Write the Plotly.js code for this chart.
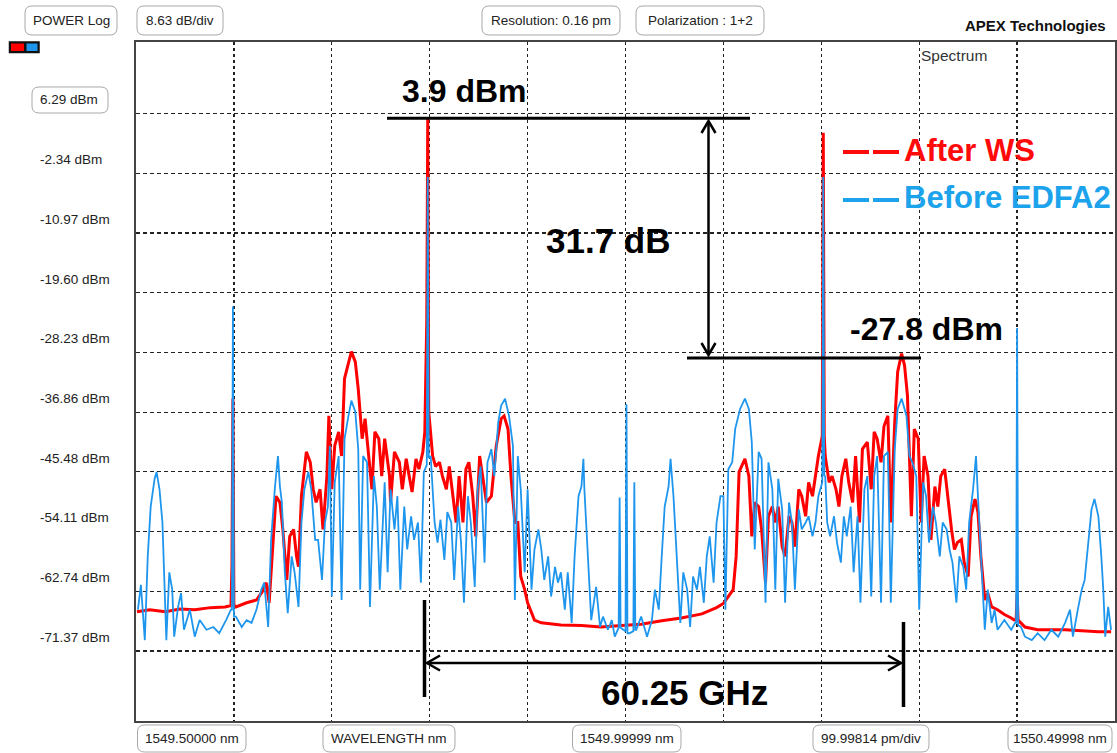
<!DOCTYPE html>
<html>
<head>
<meta charset="utf-8">
<script src="https://cdn.plot.ly/plotly-3.0.1.min.js"></script>
<style>
  html, body { margin: 0; padding: 0; background: #fff; }
  #chart { width: 1117px; height: 753px; }
</style>
</head>
<body>
<div id="chart"></div>
<script>
// ---------------- DATA ----------------
// wavelength offset from 1549.5 nm, in pm ; power in dBm
const START_NM = 1549.5;
const STOP_NM = 1550.49998;

const redPm = [1,14,30,45,60,76,91,97,98,99,100,102,113,123,129,133,136,139,143,147,150,154,157,161,164,166,169,174,178,181,184,188,191,195,197,200,203,207,210,213,217,220,224,227,231,234,237,241,244,248,251,254,259,260,264,269,272,276,279,282,286,289,293,295,297,298,299,303,306,310,313,317,320,323,327,330,334,337,340,344,347,351,354,358,363,368,373,376,380,383,387,390,393,397,400,404,407,414,434,455,475,496,516,537,557,578,593,600,605,610,613,616,622,626,629,632,636,639,643,646,650,653,656,660,663,667,670,673,677,680,684,687,691,694,697,701,702,703,704,708,711,715,718,721,725,728,732,735,739,742,747,751,754,757,761,764,768,771,775,778,782,785,788,792,795,799,802,805,809,812,816,819,822,826,829,833,836,839,843,846,850,853,857,860,863,867,870,874,880,887,894,897,899,900,901,908,921,949,983,996];
const redDbm = [-65.7,-65.4,-65.7,-65.3,-65.4,-65.1,-65.0,-64.8,-59.2,-34.9,-64.7,-65.0,-64.4,-64.0,-62.8,-61.5,-64.4,-57.7,-49.0,-49.9,-53.8,-61.1,-54.8,-53.8,-57.7,-59.2,-49.0,-42.6,-44.1,-48.0,-49.9,-48.0,-53.8,-46.1,-37.4,-48.0,-41.7,-39.7,-43.2,-32.0,-29.6,-28.1,-29.6,-33.5,-40.7,-37.8,-42.2,-48.0,-39.7,-40.7,-46.1,-40.7,-46.1,-49.9,-42.6,-44.1,-48.0,-43.6,-46.1,-48.4,-43.6,-45.1,-42.6,-39.7,-23.6,5.6,-36.8,-43.2,-44.7,-44.1,-46.1,-48.0,-44.7,-48.0,-52.8,-46.1,-52.8,-45.1,-44.1,-49.0,-54.8,-43.2,-46.1,-49.9,-49.0,-41.7,-37.8,-37.4,-39.3,-46.1,-52.8,-52.8,-60.6,-62.5,-64.4,-65.9,-66.9,-67.3,-67.6,-67.7,-67.9,-67.7,-67.5,-67.0,-66.6,-66.0,-65.1,-64.5,-63.5,-62.5,-57.7,-45.5,-43.6,-46.1,-54.8,-49.9,-50.5,-53.8,-61.5,-51.9,-50.5,-52.8,-50.5,-56.3,-57.7,-51.9,-52.8,-56.3,-48.0,-49.0,-51.9,-47.0,-49.0,-46.1,-43.2,-40.3,3.5,-40.3,-43.2,-47.0,-46.1,-48.0,-50.5,-46.1,-43.6,-47.0,-49.9,-43.2,-52.8,-42.2,-41.2,-48.0,-39.7,-40.7,-44.1,-38.9,-37.4,-52.8,-38.3,-31.0,-28.4,-30.1,-34.5,-51.9,-39.3,-40.7,-52.8,-43.2,-46.1,-55.3,-47.6,-50.5,-46.1,-45.1,-49.0,-53.8,-56.7,-55.7,-55.3,-58.6,-60.6,-51.9,-49.4,-51.3,-57.7,-64.0,-63.0,-65.0,-65.4,-66.1,-66.6,-66.9,-66.9,-63.0,-66.9,-67.9,-68.3,-68.3,-68.6,-68.6];

const bluePm = [2,5,9,12,15,19,21,24,27,29,31,34,37,39,43,46,49,55,60,65,72,79,85,92,97,98,99,100,102,108,113,118,123,128,131,135,138,142,145,147,149,152,155,159,162,166,169,172,176,179,183,186,190,193,196,198,200,203,207,210,213,217,220,224,227,229,232,236,239,243,246,249,254,257,260,264,267,270,274,277,281,284,288,291,294,297,298,299,301,305,308,311,315,318,322,325,329,332,335,339,342,346,349,352,356,359,363,366,370,373,377,381,385,387,390,393,397,400,404,407,411,414,417,421,424,428,431,434,438,441,445,448,452,455,457,458,462,465,470,474,477,482,486,489,493,494,495,498,500,501,502,504,508,509,510,511,516,522,527,530,534,537,540,544,546,549,552,556,559,563,566,569,573,576,580,583,586,590,593,597,600,602,605,609,612,617,622,626,629,632,636,639,643,646,650,653,656,660,663,667,670,673,677,680,684,687,691,694,697,701,702,703,704,706,709,713,716,720,723,726,730,733,737,740,744,747,751,754,757,761,764,768,771,775,778,782,787,790,793,797,800,804,807,810,814,817,821,824,828,831,834,838,841,845,848,851,855,858,860,863,867,870,874,877,880,887,894,898,899,900,901,904,908,915,921,928,935,942,949,954,957,962,966,969,973,976,979,983,986,988,990,993,996];
const blueDbm = [-65.4,-61.8,-69.8,-57.7,-50.5,-46.5,-45.5,-48.0,-52.8,-60.0,-69.8,-60.0,-62.5,-69.3,-65.0,-63.0,-68.3,-65.4,-69.3,-66.9,-68.3,-67.9,-68.8,-66.9,-65.4,-65.4,-21.6,-66.4,-66.4,-67.9,-66.9,-67.3,-65.4,-62.5,-61.5,-67.9,-55.3,-47.6,-43.2,-47.6,-49.9,-60.0,-65.9,-57.7,-60.0,-65.0,-52.8,-48.0,-45.5,-48.0,-55.3,-55.3,-61.1,-52.8,-50.5,-41.7,-63.5,-47.0,-43.2,-64.0,-40.7,-37.4,-35.2,-36.8,-42.2,-62.5,-43.2,-44.1,-65.0,-46.1,-50.5,-62.5,-47.0,-60.0,-48.0,-53.8,-49.0,-62.5,-50.5,-56.7,-51.9,-55.3,-52.8,-61.5,-45.5,-44.5,-2.9,-43.5,-43.2,-52.8,-55.7,-52.4,-58.2,-51.3,-52.8,-61.1,-50.5,-55.7,-64.4,-49.0,-52.8,-62.1,-48.0,-44.7,-58.6,-44.1,-42.2,-46.1,-38.3,-35.9,-34.9,-37.4,-41.7,-64.0,-43.2,-48.0,-60.0,-48.0,-62.5,-56.7,-53.8,-56.7,-61.1,-57.7,-63.5,-59.2,-61.5,-60.0,-65.4,-60.0,-67.3,-57.7,-49.0,-47.6,-43.6,-48.0,-60.0,-66.9,-62.1,-67.9,-66.4,-68.3,-66.9,-69.3,-68.0,-49.2,-68.0,-68.3,-68.5,-35.7,-68.8,-68.8,-68.5,-47.0,-68.3,-68.3,-66.4,-69.3,-66.9,-62.5,-65.4,-57.7,-50.5,-47.6,-43.6,-49.0,-57.7,-67.3,-60.0,-62.5,-67.9,-60.6,-62.5,-59.2,-64.4,-57.7,-54.8,-61.5,-52.8,-49.0,-49.0,-65.4,-45.1,-44.1,-39.3,-36.4,-34.9,-36.4,-41.2,-56.7,-42.6,-43.6,-64.4,-44.1,-48.0,-62.5,-46.5,-50.9,-64.4,-49.9,-52.8,-62.5,-50.9,-53.8,-52.8,-51.9,-54.8,-52.8,-49.0,-47.0,-2.9,-46.0,-46.1,-52.8,-54.8,-51.9,-55.7,-58.6,-51.9,-54.8,-50.5,-60.0,-51.9,-64.4,-48.0,-46.1,-63.5,-46.1,-43.2,-64.4,-43.2,-42.6,-64.4,-42.2,-36.4,-34.9,-37.4,-43.2,-44.1,-46.1,-65.4,-47.0,-49.0,-55.7,-50.5,-52.8,-57.7,-52.8,-53.8,-56.7,-58.6,-64.4,-57.7,-59.2,-62.5,-52.8,-48.0,-43.2,-49.0,-56.7,-68.3,-62.5,-67.3,-65.4,-68.3,-66.9,-68.3,-67.3,-67.3,-24.7,-67.6,-67.9,-69.3,-69.8,-68.8,-69.8,-68.3,-69.3,-67.3,-65.4,-69.3,-65.4,-62.5,-61.1,-54.8,-50.9,-49.4,-51.9,-57.7,-62.5,-69.3,-65.0,-68.3];

// grid levels (dBm) and their labels
const yLevels = [6.29,-2.34,-10.97,-19.60,-28.23,-36.86,-45.48,-54.11,-62.74,-71.37];
const yLabels = ["6.29 dBm","-2.34 dBm","-10.97 dBm","-19.60 dBm","-28.23 dBm","-36.86 dBm","-45.48 dBm","-54.11 dBm","-62.74 dBm","-71.37 dBm"];
const xGridNm = [1549.6,1549.7,1549.8,1549.9,1550.0,1550.1,1550.2,1550.3,1550.4];

const topBoxes = ["POWER Log","8.63 dB/div","Resolution: 0.16 pm","Polarization : 1+2"];
const bottomBoxes = ["1549.50000 nm","WAVELENGTH nm","1549.99999 nm","99.99814 pm/div","1550.49998 nm"];

const seriesNames = ["After WS","Before EDFA2"];
const peakLabel = "3.9 dBm";
const sidePeakLabel = "-27.8 dBm";
const diffLabel = "31.7 dB";
const spacingLabel = "60.25 GHz";

// ---------------- LAYOUT HELPERS ----------------
const W = 1117, H = 753;
const PL = 136, PR = 1115, PT = 42, PB = 721;
const px = v => (v - PL) / (PR - PL);
const py = v => (PB - v) / (PB - PT);

function roundRect(x0, y0, x1, y1, r) {
  const P = (a, b) => px(a).toFixed(5) + ',' + py(b).toFixed(5);
  return 'M' + P(x0 + r, y0) + ' L' + P(x1 - r, y0) + ' Q' + P(x1, y0) + ' ' + P(x1, y0 + r) +
         ' L' + P(x1, y1 - r) + ' Q' + P(x1, y1) + ' ' + P(x1 - r, y1) +
         ' L' + P(x0 + r, y1) + ' Q' + P(x0, y1) + ' ' + P(x0, y1 - r) +
         ' L' + P(x0, y0 + r) + ' Q' + P(x0, y0) + ' ' + P(x0 + r, y0) + ' Z';
}
function polyline(pts) {
  return pts.map((p, i) => (i ? 'L' : 'M') + px(p[0]).toFixed(5) + ',' + py(p[1]).toFixed(5)).join(' ');
}

const FONT = "Liberation Sans, Arial, sans-serif";
const shapes = [];
const annotations = [];

function box(x0, y0, x1, y1, text) {
  shapes.push({type: 'path', xref: 'paper', yref: 'paper', path: roundRect(x0, y0, x1, y1, 7),
    line: {color: '#a8a8a8', width: 1}, fillcolor: '#ffffff', layer: 'above'});
  annotations.push({xref: 'paper', yref: 'paper', x: px((x0 + x1) / 2), y: py((y0 + y1) / 2),
    xanchor: 'center', yanchor: 'middle', showarrow: false, text: text,
    font: {family: FONT, size: 13.5, color: '#222'}});
}
function line(pts, w, color) {
  shapes.push({type: 'path', xref: 'paper', yref: 'paper', path: polyline(pts),
    line: {color: color || '#000', width: w}, layer: 'above'});
}
function bigText(text, cx, cy, size, color, anchor) {
  annotations.push({xref: 'paper', yref: 'paper', x: px(cx), y: py(cy), xanchor: anchor || 'center', yanchor: 'middle',
    showarrow: false, text: '<b>' + text + '</b>', font: {family: FONT, size: size, color: color || '#000'}});
}

// top boxes
box(25, 6, 117, 35, topBoxes[0]);
box(137, 6, 223, 35, topBoxes[1]);
box(482, 6, 620, 35, topBoxes[2]);
box(636, 6, 764, 35, topBoxes[3]);
// bottom boxes
box(137.5, 725, 246, 752, bottomBoxes[0]);
box(323, 725, 455, 752, bottomBoxes[1]);
box(572.5, 725, 681, 752, bottomBoxes[2]);
box(813, 725, 929, 752, bottomBoxes[3]);
box(1008, 725, 1112, 752, bottomBoxes[4]);

// reference level box
shapes.push({type: 'path', xref: 'paper', yref: 'paper', path: roundRect(32, 87, 108, 113, 7),
  line: {color: '#a8a8a8', width: 1}, fillcolor: '#ffffff', layer: 'above'});
// y tick labels (drawn just above each grid level)
yLevels.forEach((v, i) => {
  annotations.push({xref: 'paper', yref: 'y', x: px(38), y: v, yshift: 13.7, xanchor: 'left', yanchor: 'middle',
    showarrow: false, text: yLabels[i], font: {family: FONT, size: 13.5, color: '#222'}});
});

// small trace colour icon
shapes.push({type: 'rect', xref: 'paper', yref: 'paper', x0: px(9.5), x1: px(39), y0: py(52.5), y1: py(42),
  line: {color: '#111', width: 1.5}, fillcolor: '#111', layer: 'above'});
shapes.push({type: 'rect', xref: 'paper', yref: 'paper', x0: px(11), x1: px(24), y0: py(51), y1: py(43.5),
  line: {width: 0}, fillcolor: '#ff0000', layer: 'above'});
shapes.push({type: 'rect', xref: 'paper', yref: 'paper', x0: px(26.5), x1: px(37.5), y0: py(51), y1: py(43.5),
  line: {width: 0}, fillcolor: '#1e96ee', layer: 'above'});

// header texts
annotations.push({xref: 'paper', yref: 'paper', x: px(1108), y: py(25), xanchor: 'right', yanchor: 'middle', showarrow: false,
  text: '<b>APEX Technologies</b>', font: {family: FONT, size: 15, color: '#111'}});
annotations.push({xref: 'paper', yref: 'paper', x: px(954), y: py(55), xanchor: 'center', yanchor: 'middle', showarrow: false,
  text: 'Spectrum', font: {family: FONT, size: 15.5, color: '#333'}});

// measurement annotations
line([[387, 118.3], [750, 118.3]], 3);
line([[687, 358], [921, 358]], 3);
line([[708.5, 121], [708.5, 355]], 2.5);
line([[701.5, 133], [708.5, 121], [715.5, 133]], 2.5);
line([[701.5, 343], [708.5, 355], [715.5, 343]], 2.5);
line([[424.5, 600], [424.5, 697]], 3.5);
line([[903.5, 622], [903.5, 707]], 3.5);
line([[427, 663], [901, 663]], 2.5);
line([[440, 655.5], [427, 663], [440, 670.5]], 2.5);
line([[888, 655.5], [901, 663], [888, 670.5]], 2.5);

bigText(peakLabel, 464, 91, 32);
bigText(diffLabel, 608, 241, 35);
bigText(sidePeakLabel, 926, 329, 32);
bigText(spacingLabel, 684, 692, 35);

// legend: two short dashes then the series name
line([[843, 152], [869, 152]], 4, '#ff0a0a');
line([[873, 152], [899, 152]], 4, '#ff0a0a');
line([[843, 200], [869, 200]], 4, '#1ca3ec');
line([[873, 200], [899, 200]], 4, '#1ca3ec');
bigText(seriesNames[0], 902, 150, 31, '#ff0a0a', 'left');
bigText(seriesNames[1], 902, 198, 31, '#1ca3ec', 'left');

// ---------------- TRACES ----------------
const toNm = arr => arr.map(v => START_NM + v / 1000);
const traces = [
  {x: toNm(redPm), y: redDbm, type: 'scatter', mode: 'lines', name: seriesNames[0],
   line: {color: '#ff0000', width: 3}, hoverinfo: 'skip'},
  {x: toNm(bluePm), y: blueDbm, type: 'scatter', mode: 'lines', name: seriesNames[1],
   line: {color: '#1e96ee', width: 1.8}, hoverinfo: 'skip'}
];

const layout = {
  width: W, height: H,
  margin: {l: PL, r: W - PR, t: PT, b: H - PB, pad: 0},
  paper_bgcolor: '#ffffff', plot_bgcolor: '#ffffff',
  showlegend: false,
  xaxis: {range: [START_NM, STOP_NM], tickmode: 'array', tickvals: xGridNm, showticklabels: false, ticks: '',
    showgrid: true, gridcolor: '#222', gridwidth: 1.3, griddash: '3px,3px', zeroline: false,
    showline: true, mirror: true, linecolor: '#444', linewidth: 1.6},
  yaxis: {range: [-81.48, 16.62], tickmode: 'array', tickvals: yLevels, showticklabels: false, ticks: '',
    showgrid: true, gridcolor: '#222', gridwidth: 1.3, griddash: '4px,3px', zeroline: false,
    showline: true, mirror: true, linecolor: '#444', linewidth: 1.6},
  shapes: shapes,
  annotations: annotations,
  font: {family: FONT}
};

Plotly.newPlot('chart', traces, layout, {staticPlot: true, displayModeBar: false});
</script>
</body>
</html>
